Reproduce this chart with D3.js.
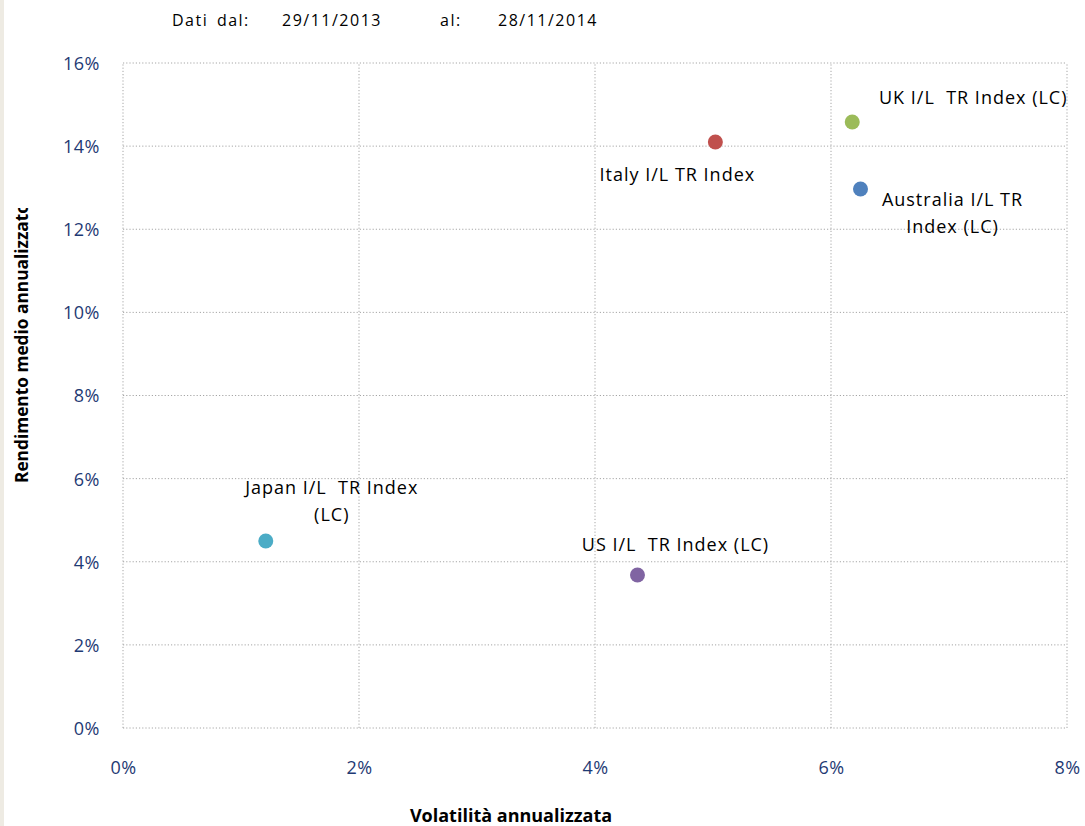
<!DOCTYPE html>
<html>
<head>
<meta charset="utf-8">
<script src="https://cdn.jsdelivr.net/npm/d3@7"></script>
<style>
  body { margin: 0; background: #fff; }
  svg { font-family: "Open Sans", sans-serif; }
  text { white-space: pre; }
</style>
</head>
<body>
<div id="chart"></div>
<script>
// data
const names = ["Japan I/L TR Index (LC)", "US I/L TR Index (LC)", "Italy I/L TR Index", "UK I/L  TR Index (LC)", "Australia I/L TR Index (LC)"]
const volatility = [1.21, 4.36, 5.02, 6.18, 6.25]
const returns = [4.50, 3.68, 14.10, 14.58, 12.97]
const colors = ["#4bacc6", "#8064a2", "#c0504d", "#9bbb59", "#4f81bd"]
// label lines as they wrap in the reference
const labelLines = [["Japan I/L  TR Index", "(LC)"], ["US I/L  TR Index (LC)"], ["Italy I/L TR Index"], ["UK I/L  TR Index (LC)"], ["Australia I/L TR", "Index (LC)"]]
const xTicks = [0, 2, 4, 6, 8]
const yTicks = [0, 2, 4, 6, 8, 10, 12, 14, 16]

const width = 1085, height = 826
const margin = { left: 123, right: 18, top: 63, bottom: 98 }

const svg = d3.select("#chart").append("svg")
    .attr("width", width)
    .attr("height", height)

svg.append("rect").attr("x", 0).attr("y", 0).attr("width", 4).attr("height", height).attr("fill", "#eeebe3")

const x = d3.scaleLinear().domain([0, 8]).range([margin.left, width - margin.right])
const y = d3.scaleLinear().domain([0, 16]).range([height - margin.bottom, margin.top])

// grid
const grid = svg.append("g").attr("stroke", "#a6a6a6").attr("stroke-dasharray", "1.2,2")
grid.selectAll(".gx").data(xTicks).join("line")
    .attr("x1", d => x(d)).attr("x2", d => x(d))
    .attr("y1", y(0)).attr("y2", y(16))
grid.selectAll(".gy").data(yTicks).join("line")
    .attr("y1", d => y(d)).attr("y2", d => y(d))
    .attr("x1", x(0)).attr("x2", x(8))

// axes
const tickColor = "#1f3a74"
const xAxis = svg.append("g")
    .attr("transform", `translate(0, ${y(0) + 30})`)
    .call(d3.axisBottom(x).tickValues(xTicks).tickFormat(d => d + "%").tickSize(0))
xAxis.select(".domain").remove()
xAxis.selectAll("text").attr("fill", tickColor).attr("font-size", 18).attr("letter-spacing", 0.5)
    .style("font-family", "'Open Sans', sans-serif")

const yAxis = svg.append("g")
    .attr("transform", `translate(${x(0) - 20}, 0)`)
    .call(d3.axisLeft(y).tickValues(yTicks).tickFormat(d => d + "%").tickSize(0))
yAxis.select(".domain").remove()
yAxis.selectAll("text").attr("fill", tickColor).attr("font-size", 18).attr("letter-spacing", 0.5).attr("dy", "0.36em")
    .style("font-family", "'Open Sans', sans-serif")

// axis titles
svg.append("text")
    .attr("x", 511).attr("y", 822)
    .attr("text-anchor", "middle")
    .attr("font-weight", "bold").attr("font-size", 18)
    .text("Volatilità annualizzata")

// y title is cut off at the top in the original
svg.append("clipPath").attr("id", "ytclip")
    .append("rect").attr("x", 0).attr("y", 208).attr("width", 40).attr("height", 300)
svg.append("g").attr("clip-path", "url(#ytclip)")
    .append("text")
    .attr("transform", "translate(28, 483) rotate(-90)")
    .attr("font-weight", "bold").attr("font-size", 17.3)
    .text("Rendimento medio annualizzato")

// header
const header = [["Dati dal:", 172], ["29/11/2013", 282], ["al:", 440], ["28/11/2014", 498]]
svg.selectAll(".hdr").data(header).join("text")
    .attr("x", d => d[1]).attr("y", 26)
    .attr("font-size", 16)
    .attr("letter-spacing", 1.5)
    .attr("word-spacing", 3)
    .text(d => d[0])

// points
const pts = names.map((n, i) => ({ name: n, vx: volatility[i], vy: returns[i], color: colors[i], lines: labelLines[i] }))
svg.selectAll("circle").data(pts).join("circle")
    .attr("cx", d => x(d.vx)).attr("cy", d => y(d.vy))
    .attr("r", 7.5)
    .attr("fill", d => d.color)

// labels (offsets from the point, as in the reference)
const offsets = [[66, -53], [38, -30], [-38, 33], [121, -24], [92, 11]]
const lbl = svg.selectAll(".lbl").data(pts).join("text")
    .attr("class", "lbl")
    .attr("text-anchor", "middle")
    .attr("font-size", 18)
    .attr("letter-spacing", 1)
    .attr("transform", (d, i) => `translate(${x(d.vx) + offsets[i][0]}, ${y(d.vy) + offsets[i][1]})`)
lbl.selectAll("tspan").data(d => d.lines).join("tspan")
    .attr("x", 0)
    .attr("dy", (t, i) => i === 0 ? "0.35em" : "1.5em")
    .text(t => t)
</script>
</body>
</html>
